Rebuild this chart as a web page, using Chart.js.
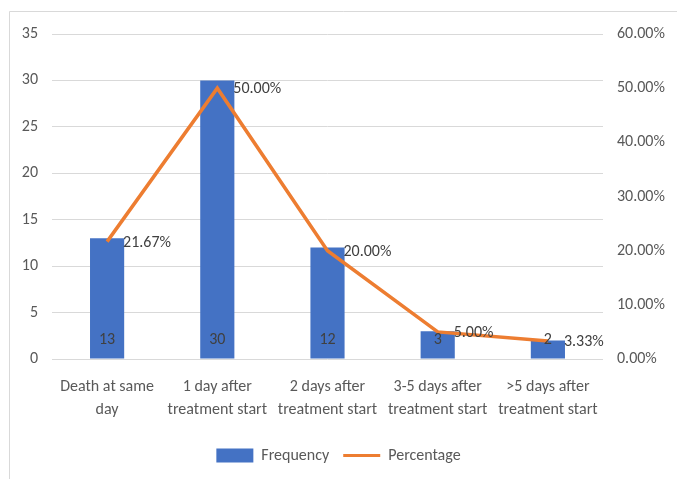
<!DOCTYPE html>
<html>
<head>
<meta charset="utf-8">
<script src="https://cdn.jsdelivr.net/npm/chart.js@4/dist/chart.umd.min.js"></script>
<style>
html,body{margin:0;padding:0;background:#fff;}
#wrap{position:relative;width:677px;height:479px;}
</style>
</head>
<body>
<div id="wrap"><canvas id="c" width="677" height="479"></canvas></div>
<script>
const categories = [["Death at same","day"],["1 day after","treatment start"],["2 days after","treatment start"],["3-5 days after","treatment start"],[">5 days after","treatment start"]];
const frequency = [13, 30, 12, 3, 2];
const percentage = [0.2167, 0.50, 0.20, 0.05, 0.0333];
const percentLabels = ["21.67%","50.00%","20.00%","5.00%","3.33%"];
const leftTicks = [0,5,10,15,20,25,30,35];
const rightTicks = [0,0.1,0.2,0.3,0.4,0.5,0.6];

const FONT = "Carlito, 'Liberation Sans', Arial, sans-serif";
const TXT = '#595959';
const FS = 16;

const borderPlugin = {
  id:'border',
  beforeDraw(chart){
    const ctx = chart.ctx;
    ctx.save();
    ctx.fillStyle='#fff';
    ctx.fillRect(0,0,chart.width,chart.height);
    ctx.strokeStyle='#D9D9D9';
    ctx.lineWidth=1;
    ctx.beginPath();
    ctx.moveTo(9.5,479); ctx.lineTo(9.5,11.5); ctx.lineTo(677,11.5);
    ctx.stroke();
    ctx.restore();
  }
};

const labelPlugin = {
  id:'labels',
  afterDatasetsDraw(chart){
    const ctx = chart.ctx;
    ctx.save();
    ctx.font = FS + "px " + FONT;
    ctx.fillStyle = '#404040';
    const bars = chart.getDatasetMeta(0).data;
    ctx.textAlign='center'; ctx.textBaseline='middle';
    bars.forEach((b,i)=>{ ctx.fillText(String(frequency[i]), b.x, b.base - 19); });
    const pts = chart.getDatasetMeta(1).data;
    ctx.textAlign='left';
    pts.forEach((p,i)=>{ ctx.fillText(percentLabels[i], p.x + 16, p.y + 1); });
    ctx.restore();
  }
};

new Chart(document.getElementById('c'), {
  data: {
    labels: categories,
    datasets: [
      {type:'bar', label:'Frequency', data:frequency, backgroundColor:'#4472C4', yAxisID:'y', order:2,
       barPercentage:0.31, categoryPercentage:1.0},
      {type:'line', label:'Percentage', data:percentage, borderColor:'#ED7D31', borderWidth:3.5,
       pointRadius:0, tension:0, yAxisID:'y1', order:1}
    ]
  },
  options: {
    responsive:false,
    animation:false,
    layout:{padding:{left:10, right:10, top:34, bottom:5.5}},
    plugins:{
      tooltip:{enabled:false},
      legend:{
        position:'bottom',
        labels:{
          usePointStyle:true, pointStyleWidth:37, boxHeight:14, padding:14,
          color:TXT, font:{family:FONT, size:FS},
          generateLabels(){
            return [
              {text:'Frequency', fillStyle:'#4472C4', strokeStyle:'#4472C4', lineWidth:0, pointStyle:'rect', datasetIndex:0, fontColor:TXT},
              {text:'Percentage', fillStyle:'#ED7D31', strokeStyle:'#ED7D31', lineWidth:3, pointStyle:'line', datasetIndex:1, fontColor:TXT}
            ];
          }
        }
      }
    },
    scales:{
      x:{
        grid:{display:false, drawTicks:false},
        border:{display:false},
        ticks:{color:TXT, font:{family:FONT, size:FS, lineHeight:1.45}, maxRotation:0, autoSkip:false, padding:16},
        afterFit(s){ s.height = 74.5; }
      },
      y:{
        position:'left', min:0, max:35,
        afterBuildTicks(s){ s.ticks = leftTicks.map(v=>({value:v})); },
        grid:{color:'#D9D9D9', drawTicks:false},
        border:{display:false},
        ticks:{color:TXT, font:{family:FONT, size:FS}, padding:14},
        afterFit(s){ s.width = 42; }
      },
      y1:{
        position:'right', min:0, max:0.6,
        afterBuildTicks(s){ s.ticks = rightTicks.map(v=>({value:v})); },
        grid:{display:false, drawTicks:false},
        border:{display:false},
        ticks:{color:TXT, font:{family:FONT, size:FS}, padding:14,
          callback:v=>(v*100).toFixed(2)+'%'},
        afterFit(s){ s.width = 64; }
      }
    }
  },
  plugins:[borderPlugin, labelPlugin]
});
</script>
</body>
</html>
